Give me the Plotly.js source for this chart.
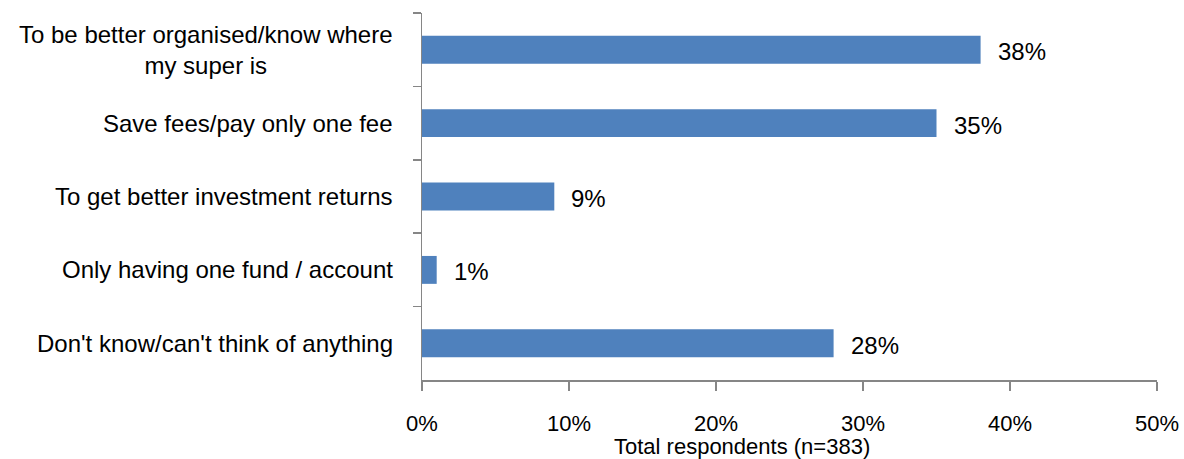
<!DOCTYPE html>
<html>
<head>
<meta charset="utf-8">
<script src="https://cdn.plot.ly/plotly-3.0.1.min.js"></script>
<style>html,body{margin:0;padding:0;background:#fff;}#chart{width:1184px;height:459px;}</style>
</head>
<body>
<div id="chart"></div>
<script>
const categories = [
  "To be better organised/know where<br>my super is",
  "Save fees/pay only one fee",
  "To get better investment returns",
  "Only having one fund / account",
  "Don't know/can't think of anything"
];
const values = [38, 35, 9, 1, 28];
const valueLabels = ["38%", "35%", "9%", "1%", "28%"];
const xTickVals = [0, 10, 20, 30, 40, 50];
const xTickText = ["0%", "10%", "20%", "30%", "40%", "50%"];
const xTitle = "Total respondents (n=383)";

const FONT = "Liberation Sans, Arial, sans-serif";
const FS = 24;
const AXIS = "#868686";

const annotations = [];
categories.forEach((c, i) => {
  annotations.push({
    x: 0, xref: "paper", y: c, yref: "y",
    xanchor: "right", yanchor: "middle", xshift: -27,
    text: c, showarrow: false, align: "center",
    font: {family: FONT, size: FS, color: "#000"}
  });
  annotations.push({
    x: values[i], xref: "x", y: c, yref: "y",
    xanchor: "left", yanchor: "middle", xshift: 15, yshift: -2,
    text: valueLabels[i], showarrow: false,
    font: {family: FONT, size: FS, color: "#000"}
  });
});
annotations.push({
  x: (742 - 422) / (1157 - 422), xref: "paper", y: 0, yref: "paper",
  yshift: -80, yanchor: "bottom",
  text: xTitle, showarrow: false, xanchor: "center",
  borderpad: 0,
  font: {family: FONT, size: 22, color: "#000"}
});

const trace = {
  type: "bar",
  orientation: "h",
  x: values,
  y: categories,
  marker: {color: "#4F81BD"},
  hoverinfo: "none"
};

const layout = {
  width: 1184, height: 459,
  margin: {l: 422, r: 27, t: 13, b: 79},
  paper_bgcolor: "#fff", plot_bgcolor: "#fff",
  bargap: 0.62,
  showlegend: false,
  font: {family: FONT, size: FS, color: "#000"},
  xaxis: {
    range: [0, 50],
    tickvals: xTickVals, ticktext: xTickText,
    showgrid: false, zeroline: false,
    showline: true, linecolor: AXIS, linewidth: 1.5,
    ticks: "outside", ticklen: 9, tickcolor: AXIS, tickwidth: 1.5,
    ticklabelstandoff: 14,
    tickfont: {family: FONT, size: 22, color: "#000"},
    fixedrange: true
  },
  yaxis: {
    type: "category",
    autorange: "reversed",
    showticklabels: false,
    showgrid: false, zeroline: false,
    showline: true, linecolor: AXIS, linewidth: 1.5,
    ticks: "outside", tickson: "boundaries", ticklen: 8, tickcolor: AXIS, tickwidth: 1.5,
    fixedrange: true
  },
  annotations: annotations
};

Plotly.newPlot("chart", [trace], layout, {displayModeBar: false, staticPlot: true});
</script>
</body>
</html>
